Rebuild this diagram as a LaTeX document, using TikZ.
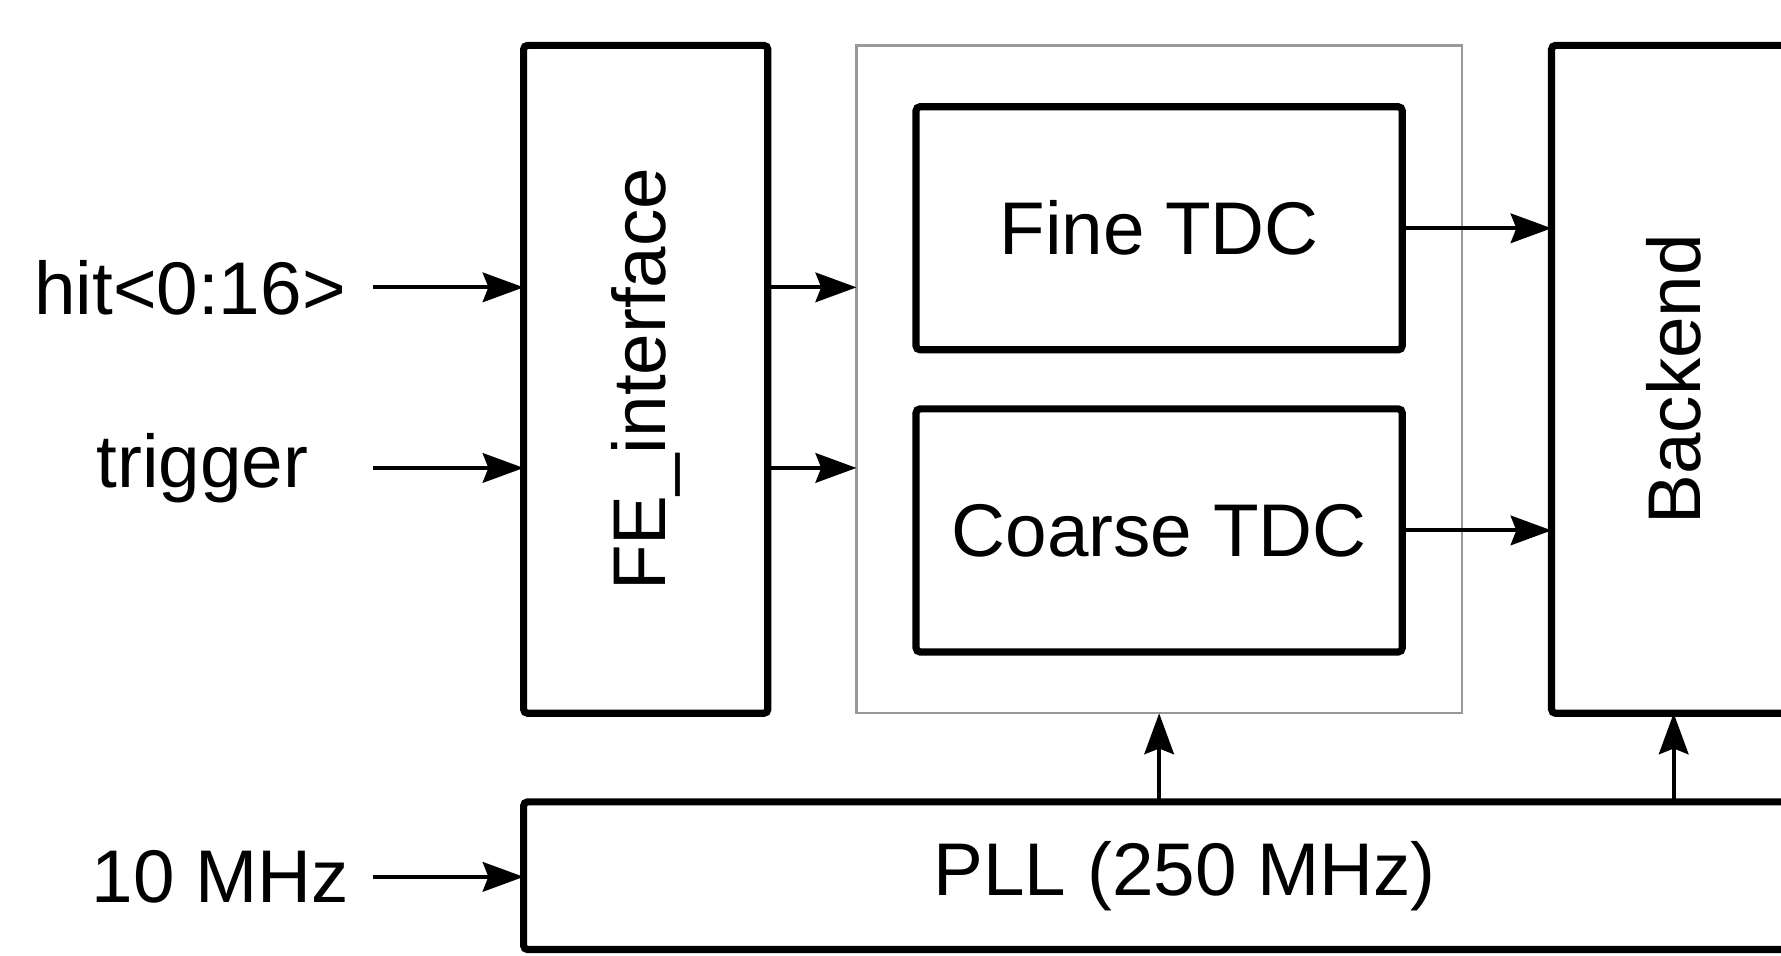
\documentclass[tikz,border=0pt]{standalone}
\usepackage{fontspec}
\setmainfont{Liberation Sans}
\usetikzlibrary{arrows.meta, positioning}

\begin{document}
\begin{tikzpicture}[
      font=\fontsize{18.7}{22}\selectfont,
      blk/.style={draw, line width=1.8pt, rounded corners=1pt, outer sep=0pt,
                  inner sep=0pt, align=center},
      grp/.style={draw=black!40, line width=0.6pt, outer sep=0pt, inner sep=0pt},
      lbl/.style={inner sep=0pt},
      arrow/.style={-{Stealth[length=3.6mm, width=2.6mm, inset=0.5mm]}, line width=1pt} ]

    \useasboundingbox (0,0) rectangle (15.68,8.41);
    \clip (0,0) rectangle (15.68,8.41);

    \node[blk, minimum width=2.15cm, minimum height=5.88cm] (fe) at (5.685,5.07)
      {\rotatebox{90}{FE\_interface}};

    \node[grp, minimum width=5.33cm, minimum height=5.88cm, right=0.78cm of fe] (tdc) {};
    \node[blk, minimum width=4.28cm, minimum height=2.14cm,
          below=0.54cm of tdc.north] (fine) {Fine TDC};
    \node[blk, minimum width=4.28cm, minimum height=2.14cm,
          below=0.52cm of fine] (coarse) {Coarse TDC};

    \node[blk, minimum width=2.15cm, minimum height=5.88cm, right=0.79cm of tdc] (be)
      {\rotatebox{90}{Backend}};

    \node[blk, minimum width=11.64cm, minimum height=1.30cm,
          below right=0.78cm and 0cm of fe.south west] (pll) {PLL (250 MHz)};

    % inputs
    \coordinate (hitin)  at (3.28,5.88);
    \coordinate (trigin) at (3.28,4.29);
    \coordinate (clkin)  at (3.28,0.69);
    \node[lbl, left=0.23cm of hitin]  (hit)  {hit<0:16>};
    \node[lbl, left=0.56cm of trigin] (trig) {trigger};
    \node[lbl, left=0.20cm of clkin]  (clk)  {10 MHz};

    \draw[arrow] (hitin)  -- (hitin -| fe.west);
    \draw[arrow] (trigin) -- (trigin -| fe.west);
    \draw[arrow] (clkin)  -- (clkin -| pll.west);

    \draw[arrow] (hitin -| fe.east)  -- (hitin -| tdc.west);
    \draw[arrow] (trigin -| fe.east) -- (trigin -| tdc.west);

    \draw[arrow] (fine.east)   -- (fine.east -| be.west);
    \draw[arrow] (coarse.east) -- (coarse.east -| be.west);

    \draw[arrow] (tdc.south |- pll.north) -- (tdc.south);
    \draw[arrow] (be.south |- pll.north)  -- (be.south);
  \end{tikzpicture}
\end{document}
